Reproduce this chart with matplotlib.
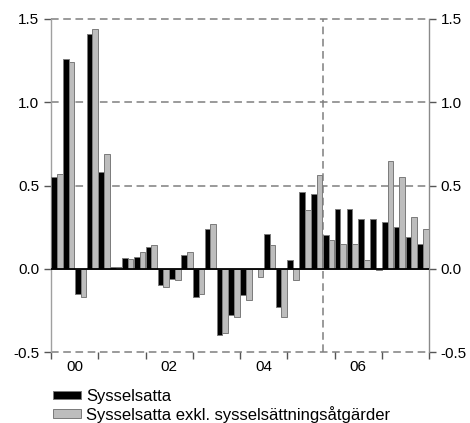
import matplotlib
matplotlib.use("Agg")
import matplotlib.pyplot as plt
from matplotlib.patches import Patch

plt.rcParams['font.family'] = ['Liberation Sans', 'DejaVu Sans']

# Quarterly change, 2000Q1 - 2007Q4 (percent)
syss = [0.55, 1.26, -0.15, 1.41,
        0.58, 0.01, 0.065, 0.07,
        0.13, -0.10, -0.06, 0.08,
        -0.17, 0.24, -0.40, -0.28,
        -0.16, 0.0, 0.21, -0.23,
        0.055, 0.46, 0.45, 0.20,
        0.36, 0.36, 0.30, 0.30,
        0.28, 0.25, 0.19, 0.15]
syss_exkl = [0.57, 1.24, -0.17, 1.44,
             0.69, 0.01, 0.06, 0.10,
             0.14, -0.11, -0.07, 0.10,
             -0.15, 0.27, -0.385, -0.29,
             -0.19, -0.05, 0.14, -0.29,
             -0.07, 0.35, 0.565, 0.17,
             0.15, 0.15, 0.05, -0.01,
             0.65, 0.55, 0.31, 0.24]
year_labels = ["00", "02", "04", "06"]
legend_labels = ["Sysselsatta", "Sysselsatta exkl. sysselsättningsåtgärder"]

W, H = 470, 423
fig = plt.figure(figsize=(W / 100, H / 100), dpi=100)
ax = fig.add_axes([51 / W, 1 - 352 / H, (429 - 51) / W, (352 - 19) / H])

n = len(syss)
xs = list(range(n))
edge = '#7a7a7a'
ax.bar([x + 0.02 for x in xs], syss, width=0.48, align='edge',
       color='black', edgecolor=edge, linewidth=0.7, zorder=3)
ax.bar([x + 0.5 for x in xs], syss_exkl, width=0.48, align='edge',
       color='#bdbdbd', edgecolor=edge, linewidth=0.7, zorder=3)

ax.set_xlim(0, n)
ax.set_ylim(-0.5, 1.5)

# grid lines and forecast separator
for yv in [-0.5, 0.5, 1.0, 1.5]:
    ax.axhline(yv, color='#7f7f7f', linestyle=(0, (5, 3)), linewidth=1.1, zorder=1,
               clip_on=False)
ax.axhline(0, color='black', linewidth=1.3, zorder=4)
ax.axvline(23, color='#7f7f7f', linestyle=(0, (5, 3)), linewidth=1.1, zorder=2)

for side in ['top', 'bottom']:
    ax.spines[side].set_visible(False)
ax.spines['left'].set_color('#a0a0a0')
ax.spines['right'].set_color('#8a8a8a')
ax.spines['left'].set_linewidth(1.0)
ax.spines['right'].set_linewidth(1.0)

yt = [-0.5, 0.0, 0.5, 1.0, 1.5]
ax.set_yticks(yt)
ax.set_yticklabels([f"{v:.1f}" for v in yt])
ax.tick_params(axis='y', which='both', left=True, right=True,
               labelleft=True, labelright=True, direction='out',
               length=5, width=1, color='#555555', labelsize=11, pad=3.5)

ax.set_xticks(range(0, n + 1, 4))
ax.set_xticklabels([])
ax.set_xticks([2, 10, 18, 26], minor=True)
ax.set_xticklabels(year_labels, minor=True)
ax.tick_params(axis='x', which='major', direction='out', length=5, width=1,
               color='#555555')
ax.tick_params(axis='x', which='minor', length=0, labelsize=11, pad=6)

handles = [Patch(facecolor='black', edgecolor=edge, linewidth=0.7),
           Patch(facecolor='#bdbdbd', edgecolor=edge, linewidth=0.7)]
fig.legend(handles, legend_labels, loc='upper left',
           bbox_to_anchor=(53 / W, 1 - 389 / H), frameon=False,
           fontsize=12, handlelength=1.7, handleheight=0.4,
           handletextpad=0.3, labelspacing=0.1, borderaxespad=0,
           borderpad=0.0)

fig.savefig("out.png", dpi=100)
